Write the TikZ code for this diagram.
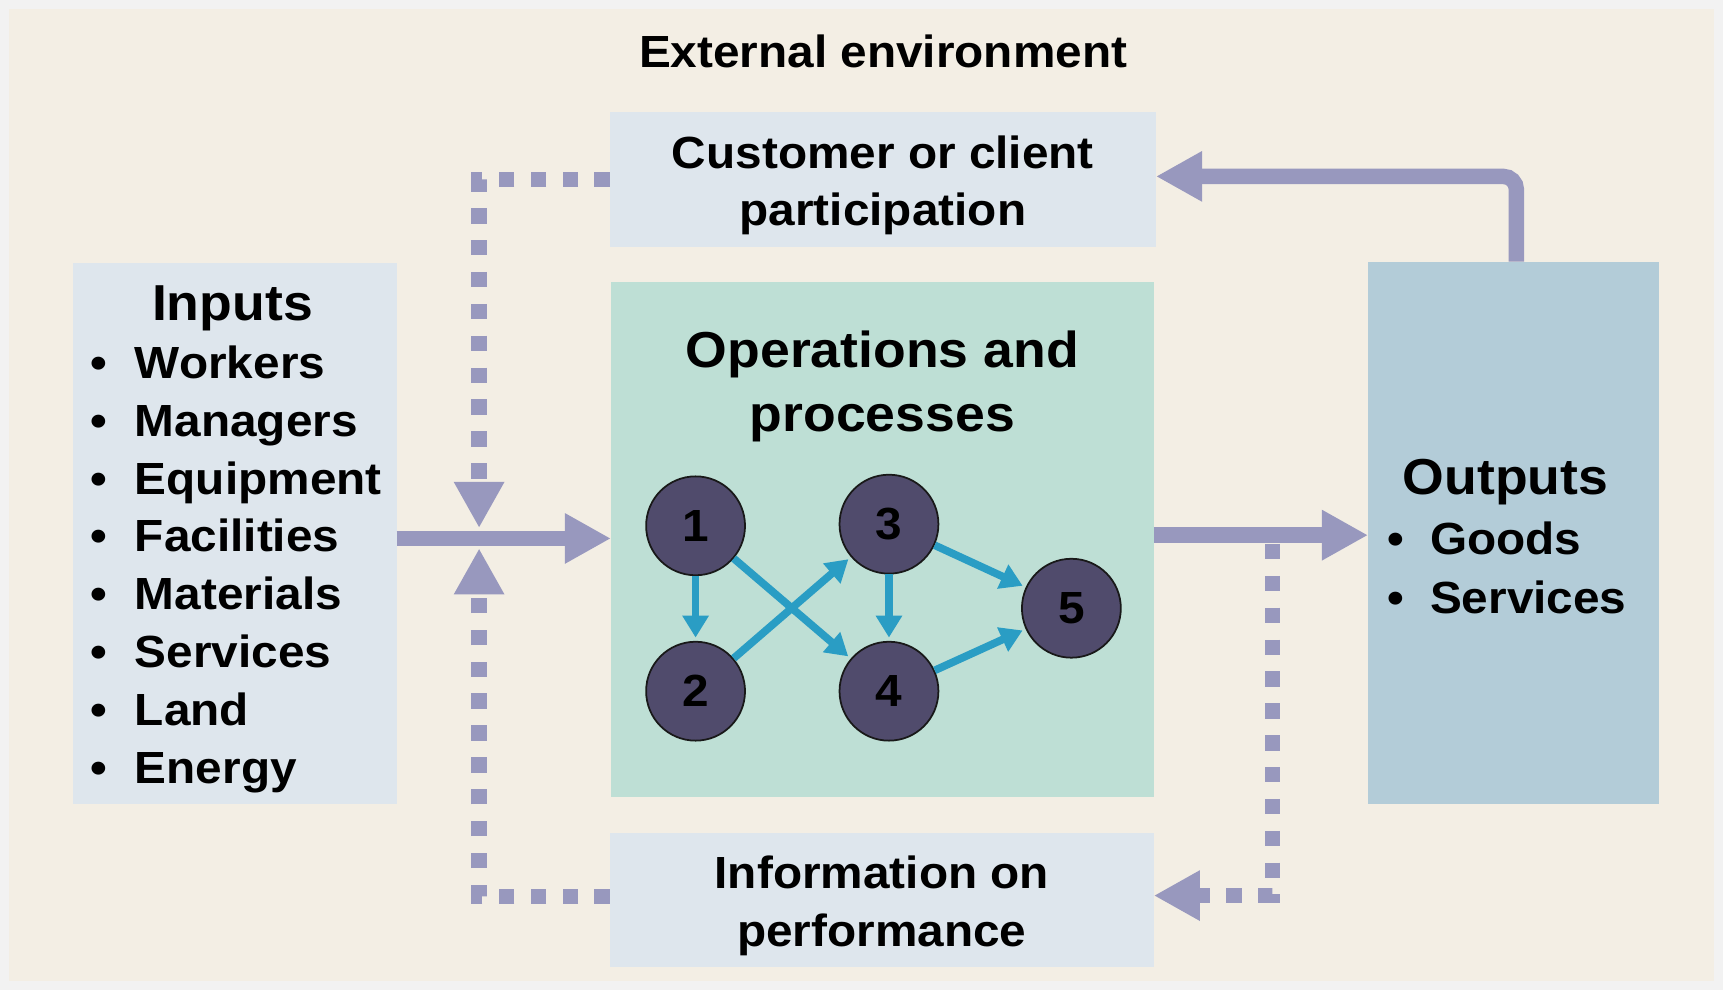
\documentclass[tikz,border=0pt]{standalone}
\usepackage{fontspec}
\setmainfont{Liberation Sans}[FakeStretch=1.06]
\usetikzlibrary{arrows.meta,calc,fit}

\definecolor{outerbg}{HTML}{F2F2F2}
\definecolor{beige}{HTML}{F3EEE4}
\definecolor{lightbox}{HTML}{DEE6ED}
\definecolor{opsbox}{HTML}{BEDFD5}
\definecolor{outbox}{HTML}{B3CCD8}
\definecolor{purplearrow}{HTML}{9898BE}
\definecolor{tealarrow}{HTML}{2A9DC4}
\definecolor{circfill}{HTML}{504B6C}

\begin{document}
\begin{tikzpicture}[x=0.5pt,y=-0.5pt,
  panel/.style={inner sep=0pt, outer sep=0pt, draw=none},
  normal/.style={font=\bfseries\fontsize{20.5pt}{24pt}\selectfont, inner sep=0pt, text=black},
  heading/.style={font=\bfseries\fontsize{23pt}{27pt}\selectfont, inner sep=0pt, text=black},
  fat/.style={draw=purplearrow, line width=7pt, -{Triangle[width=21.5pt,length=21pt]}},
  dotline/.style={draw=purplearrow, line width=7pt, dash pattern=on 7pt off 7.5pt, -{Triangle[width=21.5pt,length=21pt]}},
  stage/.style={circle, fill=circfill, draw=black!90, line width=0.8pt, minimum size=45pt, inner sep=0pt, font=\bfseries\fontsize{20.5pt}{24pt}\selectfont, text=black},
  flow/.style={draw=tealarrow, line width=3.5pt, -{Triangle[width=11.5pt,length=10pt]}, shorten >=1.5pt}
]
% background
\fill[outerbg] (0,0) rectangle (1568,901);
\fill[beige] (8,8) rectangle (1560,893);
\useasboundingbox (0,0) rectangle (1568,901);

% title
\node[normal, anchor=base] (title) at (803.7,61) {External environment};

% boxes
\node[panel, fill=lightbox, fit={(555,102) (1052,225)}] (cust) {};
\node[panel, fill=lightbox, fit={(66,239) (361,732)}] (inputs) {};
\node[panel, fill=opsbox, fit={(556,257) (1050,725)}] (ops) {};
\node[panel, fill=outbox, fit={(1245,238) (1510,732)}] (outputs) {};
\node[panel, fill=lightbox, fit={(555,758) (1050,880)}] (info) {};

% box texts
\node[normal, anchor=base] (cust1) at (803.5,153) {Customer or client};
\node[normal, anchor=base] (cust2) at (803.5,205) {participation};
\node[normal, anchor=base] (info1) at (802.5,809) {Information on};
\node[normal, anchor=base] (info2) at (802.5,861) {performance};
\node[heading, anchor=base] (ops1) at (803,334) {Operations and};
\node[heading, anchor=base] (ops2) at (803,393) {processes};

\node[heading, anchor=base] (inhead) at (211.5,292) {Inputs};
\foreach \t [count=\i] in {Workers,Managers,Equipment,Facilities,Materials,Services,Land,Energy}
  \node[normal, anchor=base west] (in\i) at (82.4,{344.5+52.6*(\i-1)}) {\makebox[20pt][l]{\textbullet}\t};

\node[heading, anchor=base] (outhead) at (1370,450) {Outputs};
\node[normal, anchor=base west] (out1) at (1262,505) {\makebox[19.5pt][l]{\textbullet}Goods};
\node[normal, anchor=base west] (out2) at (1262,558) {\makebox[19.5pt][l]{\textbullet}Services};

% stages
\node[stage] (s1) at (633,478.5) {1};
\node[stage] (s2) at (633,629) {2};
\node[stage] (s3) at (809,477) {3};
\node[stage] (s4) at (809,629) {4};
\node[stage] (s5) at (975,553.5) {5};

\draw[flow] (s1) -- (s2);
\draw[flow] (s1) -- (s4);
\draw[flow] (s2) -- (s3);
\draw[flow] (s3) -- (s4);
\draw[flow] (s3) -- (s5);
\draw[flow] (s4) -- (s5);

% main flow arrows
\coordinate (jn) at (436,490);
\coordinate (jo) at (1158,487);
\draw[fat] (inputs.east |- jn) -- (ops.west |- jn);
\draw[dotline] (cust.west) -| ($(jn)+(0,-9.5)$);
\draw[dotline] ([yshift=1.5pt]info.west) -| ($(jn)+(0,9)$);
\draw[fat] (ops.east |- jo) -- (outputs.west |- jo);
\draw[dotline] ($(jo)+(0,8)$) |- ([yshift=2pt]info.east);
\draw[fat, rounded corners=6pt] (1380,0 |- outputs.north) |- ([yshift=1.5pt]cust.east);
\end{tikzpicture}
\end{document}
